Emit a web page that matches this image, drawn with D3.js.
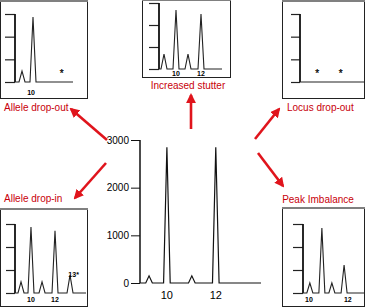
<!DOCTYPE html>
<html>
<head>
<meta charset="utf-8">
<script src="https://cdn.jsdelivr.net/npm/d3@7"></script>
<style>
  body { margin: 0; background: #fff; }
  text { font-family: "Liberation Sans", Arial, sans-serif; }
</style>
</head>
<body>
<div id="chart"></div>
<script>
// main profile: allele position, peak height (RFU)
let mainPeaks = [[9.27, 150], [10, 2850], [11.02, 150], [12, 2850]];
let mainTicks = [0, 1000, 2000, 3000];
let mainLabels = [["10", 10], ["12", 12]];

// small panels
let dropOutPeaks = [[9.12, 485], [10, 2870]];
let dropOutLabels = [["10", 9.85]];
let dropOutStars = [["*", 12.3, 440]];

let stutterPeaks = [[9.04, 680], [10, 2680], [10.96, 680], [12, 2500]];
let stutterLabels = [["10", 10], ["12", 12]];

let locusPeaks = [];
let locusStars = [["*", 10, 440], ["*", 12, 440]];

let dropInPeaks = [[9.17, 480], [10, 2870], [10.92, 480], [12, 2700], [13.25, 780]];
let dropInLabels = [["10", 10], ["12", 12]];
let dropInStars = [["13*", 13.55, 780]];

let imbalancePeaks = [[10.05, 435], [10.7, 2830], [11.24, 435], [11.9, 1220]];
let imbalanceLabels = [["10", 10], ["12", 12.1]];

let miniTicks = [0, 1000, 2000, 3000];

let svg = d3.select("#chart")
    .append("svg")
    .attr("width", 365)
    .attr("height", 307);

let red = "#e0141c";

function tracePoints(peaks, x, halfW) {
    let pts = [[x.domain()[0], 0]];
    peaks.forEach(function (p) {
        pts.push([x.invert(x(p[0]) - halfW), 0]);
        pts.push([p[0], p[1]]);
        pts.push([x.invert(x(p[0]) + halfW), 0]);
    });
    pts.push([x.domain()[1], 0]);
    return pts;
}

// ---- main chart ----
let mx = d3.scaleLinear().domain([8.9, 13.85]).range([140, 261]);
let my = d3.scaleLinear().domain([0, 3000]).range([283, 140]);

let main = svg.append("g");
main.append("g")
    .attr("transform", "translate(140,0)")
    .call(d3.axisLeft(my).tickValues(mainTicks).tickSize(9).tickPadding(2).tickFormat(d3.format("d")))
    .call(function (g) {
        g.select(".domain").remove();
        g.selectAll(".tick line").attr("stroke", "#111");
        g.selectAll(".tick text").attr("font-size", 10).attr("fill", "#000")
            .attr("font-family", "'Liberation Sans', Arial, sans-serif");
    });
main.append("line")
    .attr("x1", 140).attr("x2", 140)
    .attr("y1", my(3000)).attr("y2", my(0))
    .attr("stroke", "#111").attr("stroke-width", 1.5);

main.append("path")
    .datum(tracePoints(mainPeaks, mx, 3.3))
    .attr("fill", "none")
    .attr("stroke", "#111")
    .attr("stroke-width", 1.2)
    .attr("d", d3.line().x(function (d) { return mx(d[0]); }).y(function (d) { return my(d[1]); }));

main.selectAll(".xl")
    .data(mainLabels)
    .enter()
    .append("text")
    .attr("x", function (d) { return mx(d[1]); })
    .attr("y", 299)
    .attr("text-anchor", "middle")
    .attr("font-size", 11)
    .text(function (d) { return d[0]; });

// ---- small panels ----
function panel(opt) {
    let g = svg.append("g");
    let b = opt.box;
    g.append("rect")
        .attr("x", b[0] + 0.5).attr("y", b[1] + 0.5)
        .attr("width", b[2] - b[0] - 1).attr("height", b[3] - b[1] - 1)
        .attr("fill", "#fff").attr("stroke", "#222").attr("stroke-width", 1);
    g.append("line")
        .attr("x1", b[0]).attr("x2", b[2])
        .attr("y1", b[1] + 1).attr("y2", b[1] + 1)
        .attr("stroke", "#808080").attr("stroke-width", 2);

    let x = d3.scaleLinear().domain(opt.xd).range(opt.xr);
    let y = d3.scaleLinear().domain([0, 3000]).range(opt.yr);

    g.append("g")
        .attr("transform", "translate(" + opt.xr[0] + ",0)")
        .call(d3.axisLeft(y).tickValues(miniTicks).tickSize(opt.tick).tickFormat(""))
        .call(function (a) {
            a.select(".domain").remove();
            a.selectAll(".tick line").attr("stroke", "#222").attr("stroke-width", 1.2);
        });
    g.append("line")
        .attr("x1", opt.xr[0]).attr("x2", opt.xr[0])
        .attr("y1", y(3000)).attr("y2", y(0))
        .attr("stroke", "#111").attr("stroke-width", 1.8);

    g.append("path")
        .datum(tracePoints(opt.peaks, x, 3))
        .attr("fill", "none")
        .attr("stroke", "#222")
        .attr("stroke-width", 1.1)
        .attr("d", d3.line().x(function (d) { return x(d[0]); }).y(function (d) { return y(d[1]); }));

    g.selectAll(".ml")
        .data(opt.labels || [])
        .enter()
        .append("text")
        .attr("x", function (d) { return x(d[1]); })
        .attr("y", opt.yr[0] + opt.labelGap)
        .attr("text-anchor", "middle")
        .attr("font-size", 7)
        .attr("font-weight", "bold")
        .attr("fill", "#000")
        .text(function (d) { return d[0]; });

    g.selectAll(".st")
        .data(opt.stars || [])
        .enter()
        .append("text")
        .attr("x", function (d) { return x(d[1]); })
        .attr("y", function (d) { return y(d[2]) + (d[0] === "*" ? 5 : 2); })
        .attr("text-anchor", "middle")
        .attr("font-size", d => d[0] === "*" ? 10 : 7)
        .attr("font-weight", d => d[0] === "*" ? "normal" : "bold")
        .attr("fill", "#000")
        .attr("stroke", d => d[0] === "*" ? "#000" : "none")
        .attr("stroke-width", 0.25)
        .text(function (d) { return d[0]; });

    g.append("text")
        .attr("x", opt.title[1])
        .attr("y", opt.title[2])
        .attr("text-anchor", opt.title[3])
        .attr("font-size", 10)
        .attr("fill", "#c8000a")
        .text(opt.title[0]);
}

panel({box: [0, 0, 88, 99], xd: [8.56, 13.2], xr: [15, 73], yr: [82, 14], tick: 10, labelGap: 13,
    peaks: dropOutPeaks, labels: dropOutLabels, stars: dropOutStars,
    title: ["Allele drop-out", 4, 111, "start"]});

panel({box: [142, -1, 231, 78], xd: [8.64, 13.68], xr: [159, 222], yr: [69, 3], tick: 10, labelGap: 7,
    peaks: stutterPeaks, labels: stutterLabels,
    title: ["Increased stutter", 188, 89, "middle"]});

panel({box: [282, 0, 365, 99], xd: [8.52, 14.0], xr: [300, 364], yr: [82, 14], tick: 9, labelGap: 13,
    peaks: locusPeaks, stars: locusStars,
    title: ["Locus drop-out", 287, 111, "start"]});

panel({box: [0, 208, 88, 307], xd: [8.67, 14.58], xr: [15, 86], yr: [293, 224], tick: 9, labelGap: 9,
    peaks: dropInPeaks, labels: dropInLabels, stars: dropInStars,
    title: ["Allele drop-in", 4, 202, "start"]});

panel({box: [282, 207, 365, 307], xd: [9.68, 13.03], xr: [303, 365], yr: [293, 224], tick: 10, labelGap: 9,
    peaks: imbalancePeaks, labels: imbalanceLabels,
    title: ["Peak Imbalance", 318, 203, "middle"]});

// ---- arrows ----
let arrows = [
    [107, 140, 71, 109],
    [106, 163, 75, 198],
    [191, 129, 191, 95],
    [255, 139, 279, 109],
    [258, 153, 283, 186]
];

svg.append("defs").append("marker")
    .attr("id", "head")
    .attr("viewBox", "0 0 10 10")
    .attr("refX", 8).attr("refY", 5)
    .attr("markerWidth", 3.8).attr("markerHeight", 3.8)
    .attr("markerUnits", "strokeWidth")
    .attr("orient", "auto")
    .append("path")
    .attr("d", "M0,0L10,5L0,10z")
    .attr("fill", red);

svg.selectAll(".arrow")
    .data(arrows)
    .enter()
    .append("line")
    .attr("x1", d => d[0]).attr("y1", d => d[1])
    .attr("x2", d => d[2]).attr("y2", d => d[3])
    .attr("stroke", red)
    .attr("stroke-width", 2.6)
    .attr("marker-end", "url(#head)");
</script>
</body>
</html>
